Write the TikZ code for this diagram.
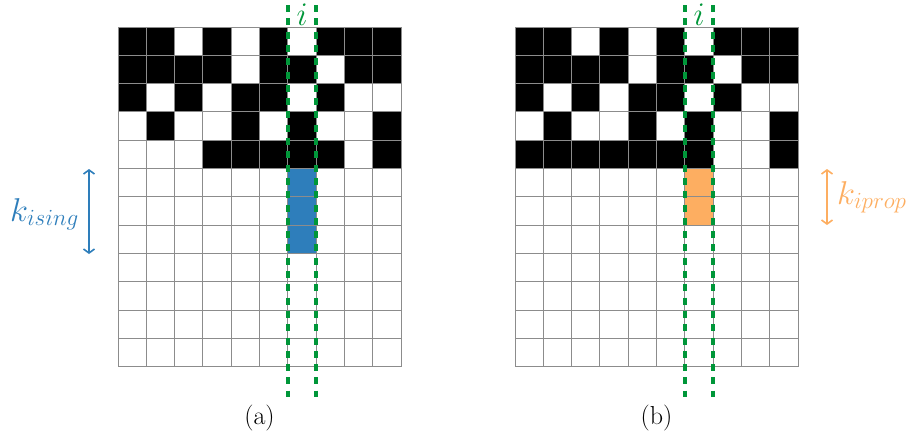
\RequirePackage{fix-cm}
\documentclass[tikz,border=0pt]{standalone}
\usepackage{fontspec}
\usetikzlibrary{arrows.meta}
\definecolor{myblue}{RGB}{46,126,187}
\definecolor{myorange}{RGB}{253,174,97}
\definecolor{mygreen}{RGB}{0,150,57}
\tikzset{
  cellline/.style={draw=gray!90, line width=1pt},
  blackcell/.style={fill=black},
  gdash/.style={draw=mygreen, line width=4.2pt, dash pattern=on 7pt off 6.3pt},
  klabel/.style={anchor=base west, font=\fontsize{33}{40}\selectfont, inner sep=0pt},
  ilabel/.style={anchor=base, text=mygreen, font=\fontsize{33}{40}\selectfont, inner sep=0pt},
  caplabel/.style={font=\fontsize{26}{31}\selectfont},
  karrow/.style={line width=1.6pt, {Straight Barb[length=4pt,width=11pt,line width=1.6pt]}-{Straight Barb[length=4pt,width=11pt,line width=1.6pt]}}
}
\def\cs{28.33}
% #1 x origin, #2 list of black cells in row 4, #3 highlight colour, #4 last highlighted row
\newcommand{\drawpanel}[4]{%
  \begin{scope}[shift={(#1,27)}]
    \foreach \c/\r in {0/0,1/0,3/0,5/0,7/0,8/0,9/0,
                       0/1,1/1,2/1,3/1,5/1,6/1,8/1,9/1,
                       0/2,2/2,4/2,5/2,7/2,
                       1/3,4/3,6/3,9/3}
      \fill[blackcell] (\c*\cs,\r*\cs) rectangle ++(\cs,\cs);
    \foreach \c in {#2}
      \fill[blackcell] (\c*\cs,4*\cs) rectangle ++(\cs,\cs);
    \fill[#3] (6*\cs,5*\cs) rectangle (7*\cs,#4*\cs+\cs);
    \foreach \i in {0,...,10}
      \draw[cellline] (\i*\cs,0) -- (\i*\cs,12*\cs);
    \foreach \j in {0,...,12}
      \draw[cellline] (0,\j*\cs) -- (10*\cs,\j*\cs);
    \draw[gdash] (6*\cs,-22) -- (6*\cs,370);
    \draw[gdash] (7*\cs,-22) -- (7*\cs,370);
  \end{scope}}
\begin{document}
\begin{tikzpicture}[x=1pt,y=-1pt]
  \useasboundingbox (0,0) rectangle (908,445);
  \drawpanel{118}{3,4,5,6,7,9}{myblue}{7}
  \drawpanel{515}{0,1,2,3,4,5,6,9}{myorange}{6}
  \node[ilabel] (ia) at (302.2,25) {$i$};
  \node[ilabel] (ib) at (699.2,25) {$i$};
  % left arrow and label
  \coordinate (la1) at (89,169);
  \coordinate (la2) at (89,254);
  \draw[karrow, myblue] (la1) -- (la2);
  \node[klabel, text=myblue] (kis) at (10,221) {$k_{ising}$};
  % right arrow and label
  \coordinate (ra1) at (827,169);
  \coordinate (ra2) at (827,225);
  \draw[karrow, myorange] (ra1) -- (ra2);
  \node[klabel, text=myorange] (kip) at (837,204) {$k_{iprop}$};
  \node[caplabel] (capa) at (259.5,418) {(a)};
  \node[caplabel] (capb) at (656.5,418) {(b)};
\end{tikzpicture}
\end{document}
